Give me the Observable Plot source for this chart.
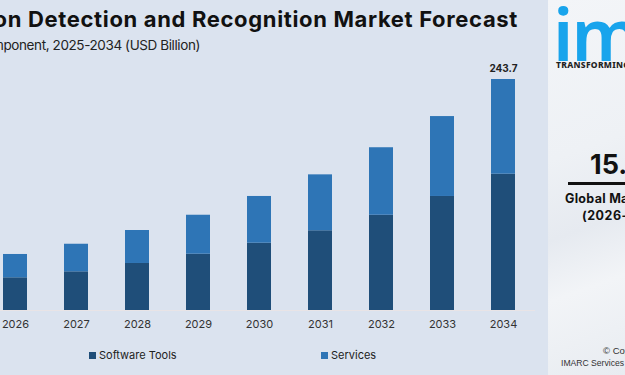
<!DOCTYPE html>
<html>
<head>
<meta charset="utf-8">
<script src="https://cdn.jsdelivr.net/npm/d3@7"></script>
<script src="https://cdn.jsdelivr.net/npm/@observablehq/plot@0.6"></script>
<style>
  html, body { margin: 0; padding: 0; }
  body { width: 625px; height: 375px; overflow: hidden; background: #dbe3ef; font-family: "Open Sans", sans-serif; }
  #wrap { position: relative; width: 625px; height: 375px; overflow: hidden; }
  #chart { position: absolute; left: 0; top: 0; }
  .title { position: absolute; top: 6px; right: 107px; white-space: nowrap; font-family: Inter, sans-serif; font-weight: 700; font-size: 22px; color: #111; letter-spacing: 0.65px; }
  .subtitle { position: absolute; top: 37px; right: 425px; white-space: nowrap; font-family: Inter, sans-serif; font-size: 13.5px; color: #222; letter-spacing: -0.4px; }
  .legend { position: absolute; top: 348px; font-family: Inter, sans-serif; font-size: 11px; color: #222; white-space: nowrap; }
  .legend i { display: inline-block; width: 7px; height: 7px; margin-right: 3px; vertical-align: 0px; }
  #panel { position: absolute; left: 548px; top: 0; width: 77px; height: 375px; overflow: hidden;
    background: linear-gradient(160deg, #f3f5f8 0%, #eef1f5 40%, #e6eaf0 60%, #f2f4f7 75%, #e8ecf1 100%); }
  #panel div { position: absolute; white-space: nowrap; }
  .logo { left: 5px; top: 5.5px; line-height: 55px; font-family: "Noto Sans", sans-serif; font-weight: 600; font-size: 72px; color: #18a4ec; letter-spacing: -2px; }
  .tag { left: 8px; top: 60.6px; line-height: 8.5px; font-family: "Noto Sans", sans-serif; font-weight: 800; font-size: 8.5px; color: #222; letter-spacing: 0.3px; }
  .big { left: 42px; top: 148px; font-family: Inter, sans-serif; font-weight: 700; font-size: 27px; color: #111; }
  .bar { left: 20px; top: 182px; width: 60px; height: 3px; background: #111; }
  .g1 { left: 17px; top: 191px; font-family: Inter, sans-serif; font-weight: 700; font-size: 12.5px; color: #111; letter-spacing: 0.3px; }
  .g2 { left: 34px; top: 208px; font-family: Inter, sans-serif; font-weight: 700; font-size: 12.5px; color: #111; letter-spacing: 0.5px; }
  .c1 { left: 55px; top: 345px; font-family: "Liberation Sans", sans-serif; font-size: 9.5px; color: #333; }
  .c2 { left: 13px; top: 358px; font-family: "Liberation Sans", sans-serif; font-size: 8.6px; color: #333; }
</style>
</head>
<body>
<div id="wrap">
  <div id="chart"></div>
  <div class="title">Emotion Detection and Recognition Market Forecast</div>
  <div class="subtitle">Breakup by Component, 2025-2034 (USD Billion)</div>
  <div class="legend" style="left:89px"><i style="background:#1f4e79"></i>Software Tools</div>
  <div class="legend" style="left:321px"><i style="background:#2e75b6"></i>Services</div>
  <div id="panel">
    <div class="logo">imarc</div>
    <div class="tag">TRANSFORMING IDEAS INTO IMPACT</div>
    <div class="big">15.4%</div>
    <div class="bar"></div>
    <div class="g1">Global Market Growth Rate</div>
    <div class="g2">(2026-2034)</div>
    <div class="c1">© Copyright</div>
    <div class="c2">IMARC Services Private Limited</div>
  </div>
</div>
<script>
const years = ["2026", "2027", "2028", "2029", "2030", "2031", "2032", "2033", "2034"];
const softwareTools = [34.5, 40.8, 49.6, 59.4, 71.0, 84.1, 100.5, 120.3, 143.8];
const services = [24.6, 29.1, 34.8, 41.1, 49.3, 59.0, 71.2, 84.3, 99.9];
const seriesNames = ["Software Tools", "Services"];
const seriesColors = ["#1f4e79", "#2e75b6"];
const labelYears = ["2034"];
const labelTexts = ["243.7"];

const rows = [];
years.forEach((y, i) => {
  rows.push({year: y, component: seriesNames[0], value: softwareTools[i]});
  rows.push({year: y, component: seriesNames[1], value: services[i]});
});
const totals = years.map((y, i) => ({year: y, total: softwareTools[i] + services[i]}));
const labels = labelYears.map((y, i) => ({year: y, total: totals[years.indexOf(y)].total, text: labelTexts[i]}));

const chart = Plot.plot({
  width: 548,
  height: 375,
  marginTop: 79,
  marginBottom: 65,
  marginLeft: 0,
  marginRight: 13,
  style: {background: "transparent", fontFamily: "Inter, sans-serif"},
  x: {type: "band", domain: years, range: [0, 519], paddingInner: 0.6, paddingOuter: 0, label: null},
  y: {domain: [0, d3.max(totals, d => d.total)], axis: null},
  color: {domain: seriesNames, range: seriesColors},
  marks: [
    Plot.ruleY([0], {stroke: "#e9e4e6", strokeWidth: 1}),
    Plot.barY(rows, {x: "year", y: "value", fill: "component"}),
    Plot.axisX({tickSize: 0, tickPadding: 10, fontSize: 11, fill: "#333"}),
    Plot.text(labels, {x: "year", y: "total", text: "text", dy: -11, fontSize: 10, fontWeight: 700, fill: "#222"})
  ]
});
document.getElementById("chart").appendChild(chart);
</script>
</body>
</html>
